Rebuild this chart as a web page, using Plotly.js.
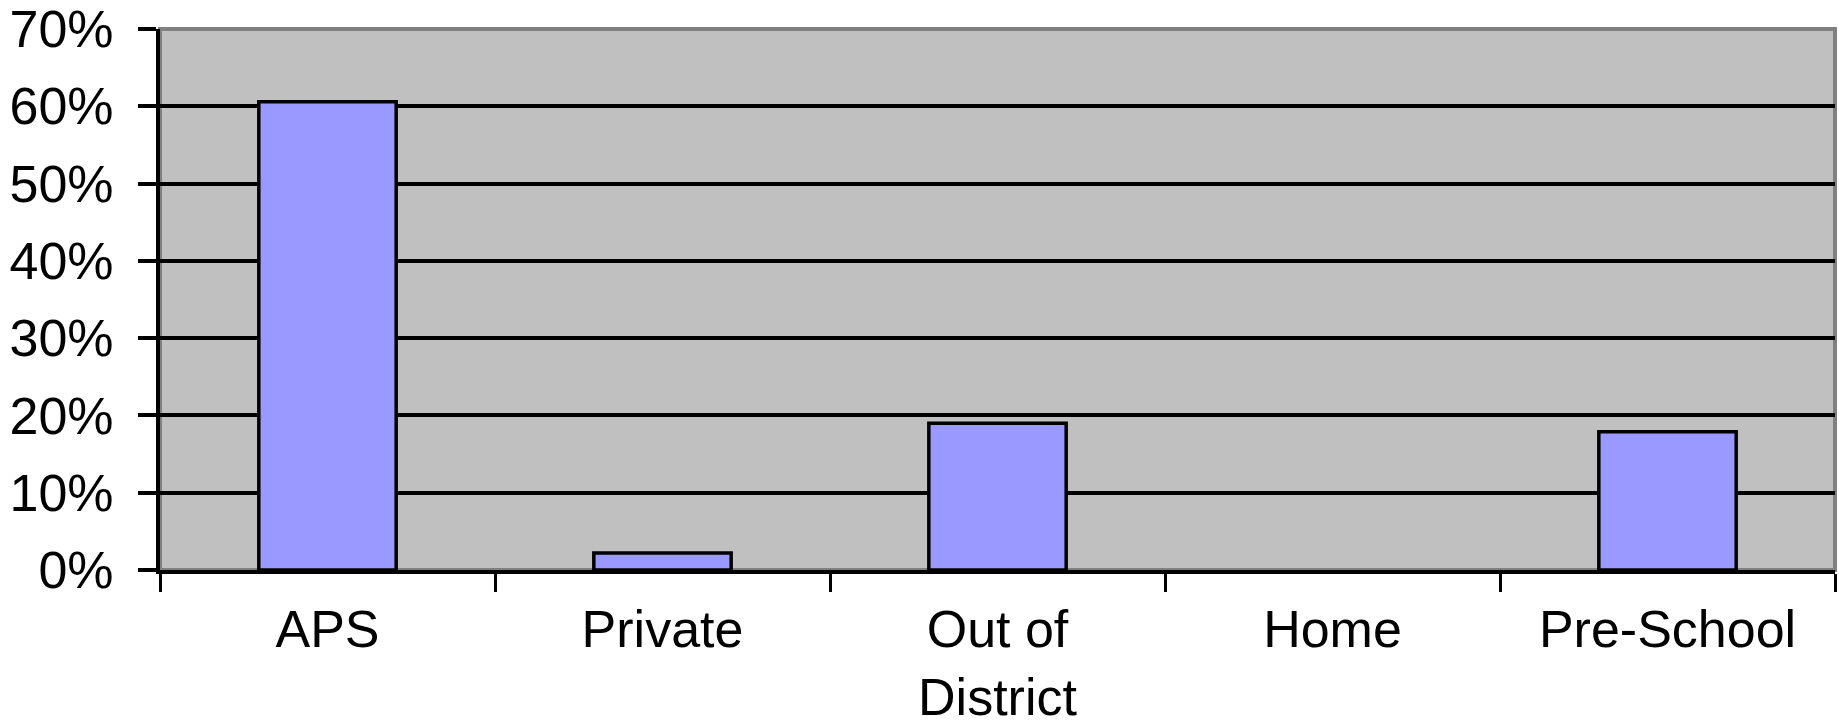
<!DOCTYPE html>
<html>
<head>
<meta charset="utf-8">
<script src="https://cdn.plot.ly/plotly-3.0.1.min.js"></script>
<style>html,body{margin:0;padding:0;background:#fff;}#chart{width:1839px;height:726px;}</style>
</head>
<body>
<div id="chart"></div>
<script>
const categories = ["APS", "Private", "Out of<br>District", "Home", "Pre-School"];
const percentValues = [60.6, 2.2, 19.0, 0, 17.9];
const yTickValues = [0, 10, 20, 30, 40, 50, 60, 70];
const yTickLabels = ["0%", "10%", "20%", "30%", "40%", "50%", "60%", "70%"];

const trace = {
  type: "bar",
  x: categories,
  y: percentValues,
  marker: {
    color: "#9999FF",
    line: {color: "#000000", width: percentValues.map(v => v > 0 ? 3.5 : 0)}
  },
  hoverinfo: "x+y"
};

const layout = {
  width: 1839,
  height: 726,
  margin: {l: 160, r: 4, t: 29, b: 156, pad: 0},
  paper_bgcolor: "#FFFFFF",
  plot_bgcolor: "#C0C0C0",
  font: {family: "Liberation Sans, Arial, sans-serif", size: 52, color: "#000000"},
  bargap: 0.59,
  showlegend: false,
  xaxis: {
    type: "category",
    tickangle: 0,
    showgrid: false,
    showline: true,
    linecolor: "#000000",
    linewidth: 4,
    ticks: "outside",
    tickson: "boundaries",
    ticklen: 18,
    tickwidth: 3,
    tickcolor: "#000000",
    ticklabelstandoff: 11,
    ticklabeloverflow: "allow",
    zeroline: false
  },
  yaxis: {
    range: [0, 70],
    tickmode: "array",
    tickvals: yTickValues,
    ticktext: yTickLabels,
    showgrid: true,
    gridcolor: "#000000",
    gridwidth: 4,
    showline: true,
    linecolor: "#000000",
    linewidth: 4,
    ticks: "outside",
    ticklen: 18,
    tickwidth: 4,
    tickcolor: "#000000",
    ticklabelstandoff: 14,
    ticklabeloverflow: "allow",
    zeroline: false
  },
  shapes: [{
    type: "rect", xref: "paper", yref: "paper", x0: 0, x1: 1, y0: 0, y1: 1,
    line: {color: "#808080", width: 4}, layer: "below"
  }]
};

Plotly.newPlot("chart", [trace], layout, {displayModeBar: false, staticPlot: true});
</script>
</body>
</html>
